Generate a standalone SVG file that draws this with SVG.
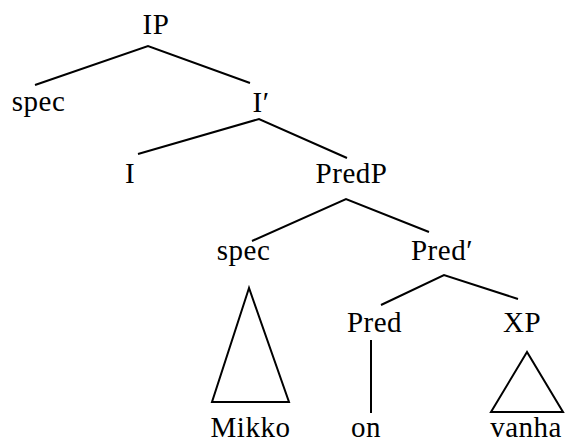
<svg xmlns="http://www.w3.org/2000/svg" width="565" height="442" viewBox="0 0 565 442">
<style>
text{font-family:"Liberation Serif","DejaVu Serif",serif;font-size:29px;letter-spacing:0.5px;fill:#000;text-anchor:middle}
.e{stroke:#000;stroke-width:2;fill:none;stroke-linejoin:miter}
</style>
<rect width="565" height="442" fill="#fff"/>
<g id="connectors">
<polyline class="e" points="35,85 148,46 250,83"/>
<polyline class="e" points="138,154 259,119 347,158"/>
<polyline class="e" points="252,241 346,199 429,232"/>
<polyline class="e" points="381,305 444,275 518,299"/>
<line class="e" x1="371" y1="340" x2="371" y2="413"/>
<polygon class="e" points="249,288 212,402 289,402"/>
<polygon class="e" points="527,352 491,412 563,412"/>
</g>
<g id="n-IP"><text x="156" y="34">IP</text></g>
<g id="n-spec1"><text x="38.5" y="111">spec</text></g>
<g id="n-Ibar"><text x="261" y="112">I′</text></g>
<g id="n-I"><text x="130" y="183">I</text></g>
<g id="n-PredP"><text x="351.5" y="183">PredP</text></g>
<g id="n-spec2"><text x="243.5" y="260">spec</text></g>
<g id="n-Predbar"><text x="442" y="260">Pred′</text></g>
<g id="n-Pred"><text x="374.5" y="332">Pred</text></g>
<g id="n-XP"><text x="522" y="332">XP</text></g>
<g id="n-Mikko"><text x="250.5" y="437">Mikko</text></g>
<g id="n-on"><text x="366" y="437">on</text></g>
<g id="n-vanha"><text x="526" y="437">vanha</text></g>
</svg>
